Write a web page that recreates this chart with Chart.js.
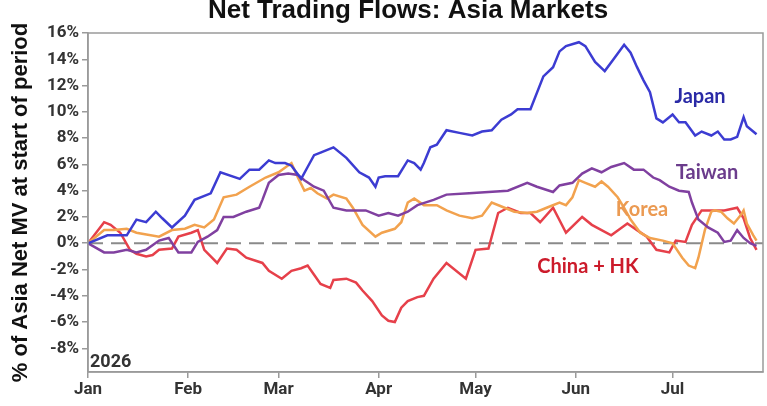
<!DOCTYPE html>
<html>
<head>
<meta charset="utf-8">
<script src="https://cdn.jsdelivr.net/npm/chart.js@4"></script>
<style>
  html, body { margin: 0; padding: 0; background: #fff; }
  #wrap { width: 767px; height: 406px; }
</style>
</head>
<body>
<div id="wrap"><canvas id="flowChart"></canvas></div>
<script>
// x values are days since Jan 1, y values are % of Asia net MV
const monthDays = [0, 31, 59, 90, 120, 151, 181];
const monthLabels = ['Jan', 'Feb', 'Mar', 'Apr', 'May', 'Jun', 'Jul'];
const yTicks = [-8, -6, -4, -2, 0, 2, 4, 6, 8, 10, 12, 14, 16];

const japanDays = [0, 6, 12, 15, 18, 21, 23, 26, 30, 33, 38, 41, 47, 50, 53, 56, 58, 61, 63, 66, 68, 70, 72, 76, 80, 84, 87, 89, 90, 92, 96, 99, 101, 103, 104, 106, 108, 111, 115, 119, 122, 125, 128, 131, 133, 137, 141, 144, 146, 148, 152, 154, 157, 160, 163, 166, 168, 170, 172, 174, 176, 178, 181, 183, 185, 188, 190, 193, 195, 197, 199, 201, 203, 204, 207];
const japanVals = [0, 0.6, 0.6, 1.8, 1.6, 2.4, 1.9, 1.2, 2.1, 3.3, 3.8, 5.4, 4.9, 5.6, 5.6, 6.3, 6.1, 6.1, 5.9, 4.9, 5.8, 6.7, 6.9, 7.3, 6.5, 5.4, 5.0, 4.3, 5.0, 5.1, 5.1, 6.3, 6.1, 5.6, 6.1, 7.3, 7.5, 8.6, 8.4, 8.2, 8.5, 8.6, 9.4, 9.8, 10.2, 10.2, 12.7, 13.4, 14.6, 15.0, 15.3, 15.0, 13.8, 13.1, 14.1, 15.1, 14.5, 13.4, 12.4, 11.5, 9.5, 9.2, 9.8, 9.2, 9.2, 8.2, 8.5, 8.2, 8.5, 7.9, 7.9, 8.1, 9.6, 8.9, 8.3];

const taiwanDays = [0, 5, 8, 12, 15, 18, 22, 25, 28, 32, 34, 37, 40, 42, 45, 49, 53, 54, 56, 59, 62, 65, 67, 70, 73, 76, 80, 86, 90, 93, 96, 99, 102, 107, 111, 118, 124, 130, 136, 139, 144, 146, 150, 153, 156, 159, 162, 166, 169, 172, 175, 177, 180, 183, 186, 187, 189, 192, 195, 197, 199, 201, 203, 205, 207];
const taiwanVals = [0, -0.7, -0.7, -0.5, -0.7, -0.5, 0.2, 0.4, -0.7, -0.7, 0.1, 0.5, 1.0, 2.0, 2.0, 2.4, 2.7, 3.3, 4.6, 5.2, 5.3, 5.2, 4.8, 4.3, 4.0, 2.7, 2.5, 2.5, 2.1, 2.3, 2.1, 2.4, 2.9, 3.3, 3.7, 3.8, 3.9, 4.0, 4.6, 4.3, 3.9, 4.4, 4.6, 5.3, 5.7, 5.4, 5.8, 6.1, 5.6, 5.6, 5.0, 4.8, 4.3, 4.0, 3.9, 3.1, 1.8, 1.2, 0.8, 0.1, 0.2, 1.0, 0.4, 0, -0.2];

const koreaDays = [0, 5, 8, 12, 15, 22, 26, 30, 33, 36, 39, 42, 46, 50, 55, 59, 63, 65, 67, 69, 71, 74, 76, 80, 82, 85, 89, 91, 95, 97, 99, 101, 104, 108, 111, 115, 119, 122, 125, 129, 132, 136, 139, 142, 146, 148, 150, 152, 154, 157, 159, 161, 164, 166, 168, 171, 174, 178, 181, 184, 186, 188, 189, 191, 193, 194, 196, 198, 200, 202, 203, 204, 206, 207];
const koreaVals = [0, 1.0, 1.0, 1.1, 0.8, 0.5, 1.0, 1.1, 1.4, 1.2, 1.8, 3.5, 3.7, 4.3, 5.0, 5.4, 6.1, 5.0, 4.0, 4.2, 3.8, 3.4, 3.7, 3.4, 2.7, 1.4, 0.5, 0.8, 1.1, 1.6, 3.1, 3.4, 2.9, 2.9, 2.5, 2.1, 1.9, 2.1, 3.1, 2.7, 2.4, 2.3, 2.4, 2.7, 3.1, 2.9, 3.5, 4.8, 4.6, 4.3, 4.7, 4.3, 3.5, 2.7, 1.8, 0.8, 0.4, 0.2, 0, -1.1, -1.7, -1.9, -1.1, 1.0, 2.4, 2.5, 2.4, 1.9, 1.5, 2.1, 2.5, 1.5, 0.6, 0.2];

const chinaDays = [0, 5, 7, 10, 13, 15, 18, 20, 22, 26, 28, 32, 34, 36, 38, 40, 43, 46, 49, 54, 56, 60, 63, 66, 68, 70, 72, 75, 76, 80, 83, 85, 88, 91, 93, 95, 97, 99, 102, 104, 107, 111, 117, 120, 124, 127, 130, 134, 137, 140, 144, 148, 153, 156, 162, 167, 170, 173, 176, 180, 182, 185, 187, 190, 197, 201, 203, 205, 207];
const chinaVals = [0, 1.6, 1.4, 0.8, -0.5, -0.8, -1.0, -0.9, -0.5, -0.4, 0.5, 0.8, 1.0, -0.5, -1.0, -1.5, -0.4, -0.5, -1.1, -1.5, -2.1, -2.7, -2.1, -1.9, -1.7, -2.4, -3.1, -3.4, -2.8, -2.7, -3.0, -3.6, -4.4, -5.5, -5.9, -6.0, -4.9, -4.4, -4.1, -4.0, -2.7, -1.5, -2.7, -0.5, -0.4, 2.3, 2.7, 2.3, 2.3, 1.6, 2.7, 0.8, 2.0, 1.4, 0.6, 1.5, 1.0, 0.5, -0.5, -0.7, 0.2, 0.1, 1.4, 2.5, 2.5, 2.7, 1.9, 0.4, -0.5];

const seriesNames = ['Japan', 'Taiwan', 'Korea', 'China + HK'];

function zip(days, vals) {
    return days.map((d, i) => ({ x: d, y: vals[i] }));
}

const tickFont = { family: "Roboto, 'DejaVu Sans Condensed', sans-serif", size: 17, weight: 'bold' };
const labelFont = "bold 20px Lato, 'Noto Sans', sans-serif";

// title, frame, zero line and series labels
const decorPlugin = {
    id: 'decor',
    beforeDatasetsDraw(chart) {
        const { ctx, chartArea, scales } = chart;
        const y0 = scales.y.getPixelForValue(0);
        ctx.save();
        ctx.strokeStyle = '#8a8a8a';
        ctx.lineWidth = 2;
        ctx.setLineDash([15, 8]);
        ctx.beginPath();
        ctx.moveTo(chartArea.left, y0);
        ctx.lineTo(chartArea.right, y0);
        ctx.stroke();
        ctx.restore();
    },
    afterDraw(chart) {
        const { ctx, chartArea } = chart;
        ctx.save();
        ctx.strokeStyle = '#9a9a9a';
        ctx.lineWidth = 1.5;
        ctx.strokeRect(chartArea.left, chartArea.top, chartArea.right - chartArea.left, chartArea.bottom - chartArea.top);

        ctx.fillStyle = '#111';
        ctx.font = "bold 26px 'Liberation Sans', Arial, sans-serif";
        ctx.textAlign = 'center';
        ctx.textBaseline = 'alphabetic';
        ctx.fillText('Net Trading Flows: Asia Markets', 408, 18);

        ctx.fillStyle = '#333';
        ctx.font = "bold 18px Roboto, 'DejaVu Sans Condensed', sans-serif";
        ctx.textAlign = 'left';
        ctx.fillText('2026', chartArea.left + 2, 367);

        ctx.font = labelFont;
        ctx.textAlign = 'center';
        ctx.textBaseline = 'middle';
        const spots = [[700, 97, '#2a2aa6'], [707, 173, '#6b3c8c'], [642, 210, '#eb9a52'], [588, 267, '#cc1b2b']];
        spots.forEach((s, i) => {
            ctx.fillStyle = s[2];
            ctx.fillText(seriesNames[i], s[0], s[1]);
        });
        ctx.restore();
    }
};

new Chart(document.getElementById('flowChart'), {
    type: 'line',
    data: {
        datasets: [
            { label: seriesNames[0], data: zip(japanDays, japanVals), borderColor: '#3c3cd2' },
            { label: seriesNames[1], data: zip(taiwanDays, taiwanVals), borderColor: '#8040a0' },
            { label: seriesNames[2], data: zip(koreaDays, koreaVals), borderColor: '#f2a24e' },
            { label: seriesNames[3], data: zip(chinaDays, chinaVals), borderColor: '#e6404a' }
        ]
    },
    options: {
        responsive: true,
        maintainAspectRatio: false,
        animation: false,
        layout: { padding: { top: 33, right: 4, left: 0, bottom: 0 } },
        elements: {
            line: { borderWidth: 2.5, tension: 0, fill: false },
            point: { radius: 0 }
        },
        plugins: {
            legend: { display: false },
            tooltip: { enabled: false }
        },
        scales: {
            x: {
                type: 'linear',
                min: 0,
                max: 209,
                afterBuildTicks: (scale) => { scale.ticks = monthDays.map(v => ({ value: v })); },
                afterFit: (scale) => { scale.height = 34; },
                ticks: {
                    color: '#333',
                    font: tickFont,
                    padding: 2,
                    maxRotation: 0,
                    callback: (v) => monthLabels[monthDays.indexOf(v)]
                },
                grid: { drawOnChartArea: false, tickLength: 6, color: '#9a9a9a', lineWidth: 1.5 },
                border: { color: '#9a9a9a', width: 1.5 }
            },
            y: {
                min: -9.8,
                max: 16,
                afterBuildTicks: (scale) => { scale.ticks = yTicks.map(v => ({ value: v })); },
                afterFit: (scale) => { scale.width = 88; },
                ticks: {
                    color: '#333',
                    font: tickFont,
                    padding: 3,
                    callback: (v) => v + '%'
                },
                grid: { drawOnChartArea: false, tickLength: 6, color: '#9a9a9a', lineWidth: 1.5 },
                border: { color: '#9a9a9a', width: 1.5 },
                title: {
                    display: true,
                    text: '% of Asia Net MV at start of period',
                    color: '#111',
                    font: { family: "'Liberation Sans', Arial, sans-serif", size: 22, weight: 'bold' },
                    padding: { top: 8, bottom: 0 }
                }
            }
        }
    },
    plugins: [decorPlugin]
});
</script>
</body>
</html>
